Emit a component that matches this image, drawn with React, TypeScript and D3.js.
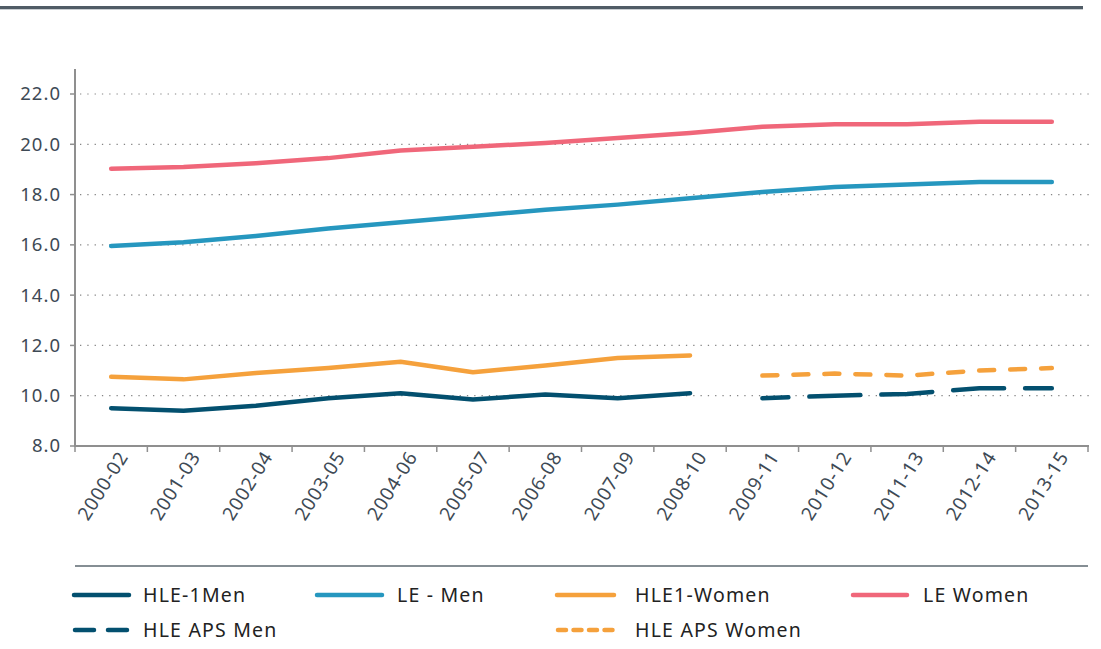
import React from "react";
import * as d3 from "d3";

const categories = [
  "2000-02", "2001-03", "2002-04", "2003-05", "2004-06", "2005-07", "2006-08",
  "2007-09", "2008-10", "2009-11", "2010-12", "2011-13", "2012-14", "2013-15",
];
const hle1Men: (number | null)[] = [9.5, 9.4, 9.6, 9.9, 10.1, 9.85, 10.05, 9.9, 10.1, null, null, null, null, null];
const leMen: (number | null)[] = [15.95, 16.1, 16.35, 16.65, 16.9, 17.15, 17.4, 17.6, 17.85, 18.1, 18.3, 18.4, 18.5, 18.5];
const hle1Women: (number | null)[] = [10.75, 10.65, 10.9, 11.1, 11.35, 10.93, 11.2, 11.5, 11.6, null, null, null, null, null];
const leWomen: (number | null)[] = [19.03, 19.1, 19.25, 19.45, 19.75, 19.9, 20.05, 20.25, 20.45, 20.7, 20.8, 20.8, 20.9, 20.9];
const hleApsMen: (number | null)[] = [null, null, null, null, null, null, null, null, null, 9.9, 10.0, 10.07, 10.3, 10.3];
const hleApsWomen: (number | null)[] = [null, null, null, null, null, null, null, null, null, 10.8, 10.88, 10.8, 11.0, 11.1];
const yTicks = [8, 10, 12, 14, 16, 18, 20, 22];

const NAVY = "#03506f";
const BLUE = "#2697bf";
const ORANGE = "#f5a13c";
const PINK = "#f0677a";
const FONT = "'Noto Sans', 'Open Sans', sans-serif";

const series = [
  { name: "HLE-1Men", values: hle1Men, color: NAVY, dash: undefined as string | undefined, offset: 0 },
  { name: "LE - Men", values: leMen, color: BLUE, dash: undefined, offset: 0 },
  { name: "HLE1-Women", values: hle1Women, color: ORANGE, dash: undefined, offset: 0 },
  { name: "LE Women", values: leWomen, color: PINK, dash: undefined, offset: 0 },
  { name: "HLE APS Men", values: hleApsMen, color: NAVY, dash: "51 21", offset: 25 },
  { name: "HLE APS Women", values: hleApsWomen, color: ORANGE, dash: "15 16", offset: 0 },
];

const legendItems = [
  { name: "HLE-1Men", color: NAVY, dash: undefined as string | undefined, x1: 74, x2: 129, tx: 143, y: 595 },
  { name: "LE - Men", color: BLUE, dash: undefined, x1: 317, x2: 382, tx: 397, y: 595 },
  { name: "HLE1-Women", color: ORANGE, dash: undefined, x1: 557, x2: 614, tx: 635, y: 595 },
  { name: "LE Women", color: PINK, dash: undefined, x1: 853, x2: 907, tx: 923, y: 595 },
  { name: "HLE APS Men", color: NAVY, dash: "19 14", x1: 75, x2: 129, tx: 143, y: 630 },
  { name: "HLE APS Women", color: ORANGE, dash: "8 7.5", x1: 558, x2: 614, tx: 635, y: 630 },
];

export default function App() {
  const x = d3.scaleBand<string>().domain(categories).range([75, 1088]).padding(0);
  const y = d3.scaleLinear().domain([8, 22]).range([446, 94]);
  const cx = (c: string) => (x(c) as number) + x.bandwidth() / 2;

  const line = d3
    .line<number | null>()
    .defined((d) => d !== null)
    .x((_, i) => cx(categories[i]))
    .y((d) => y(d as number));

  const tickXs = categories.map((c) => x(c) as number).concat([1088]);

  return (
    <svg
      width={1101}
      height={649}
      style={{ position: "absolute", left: 0, top: 0, background: "#fff" }}
    >
      {/* top rule */}
      <line x1={0} x2={1083} y1={7.5} y2={7.5} stroke="#505c66" strokeWidth={3} />
      <line x1={0} x2={1083} y1={9.5} y2={9.5} stroke="#c9ced2" strokeWidth={1} />

      {/* gridlines */}
      {yTicks.filter((t) => t !== 8).map((t) => (
        <line
          key={"g" + t}
          x1={80}
          x2={1090}
          y1={y(t)}
          y2={y(t)}
          stroke="#858585"
          strokeWidth={1.2}
          strokeDasharray="1.3 6"
        />
      ))}

      {/* y axis */}
      <line x1={75} x2={75} y1={69} y2={447} stroke="#8f8f8f" strokeWidth={2} />
      {yTicks.map((t) => (
        <g key={"y" + t}>
          <line x1={70} x2={75} y1={y(t)} y2={y(t)} stroke="#8f8f8f" strokeWidth={1.5} />
          <text
            x={61}
            y={y(t)}
            dy="0.35em"
            textAnchor="end"
            fontFamily={FONT}
            fontSize={18.5}
            letterSpacing={1}
            fill="#3e4a55"
          >
            {t.toFixed(1)}
          </text>
        </g>
      ))}

      {/* x axis */}
      <line x1={74} x2={1089} y1={446} y2={446} stroke="#8f8f8f" strokeWidth={2} />
      {tickXs.map((tx, i) => (
        <line key={"xt" + i} x1={tx} x2={tx} y1={446} y2={452} stroke="#8f8f8f" strokeWidth={1.5} />
      ))}
      {categories.map((c) => (
        <text
          key={"xl" + c}
          transform={`translate(${cx(c) + 12},${453}) rotate(-58)`}
          textAnchor="end"
          dy="0.35em"
          fontFamily={FONT}
          fontSize={19}
          letterSpacing={0.8}
          fill="#3e4a55"
        >
          {c}
        </text>
      ))}

      {/* series */}
      {series.map((s) => (
        <path
          key={s.name}
          d={line(s.values) || ""}
          fill="none"
          stroke={s.color}
          strokeWidth={4.5}
          strokeLinecap="round"
          strokeLinejoin="round"
          strokeDasharray={s.dash}
          strokeDashoffset={s.offset}
        />
      ))}

      {/* legend separator */}
      <line x1={75} x2={1088} y1={566} y2={566} stroke="#5d6870" strokeWidth={1.5} />

      {/* legend */}
      {legendItems.map((l) => (
        <g key={"l" + l.name}>
          <line
            x1={l.x1}
            x2={l.x2}
            y1={l.y}
            y2={l.y}
            stroke={l.color}
            strokeWidth={4.5}
            strokeLinecap="round"
            strokeDasharray={l.dash}
          />
          <text
            x={l.tx}
            y={l.y}
            dy="0.35em"
            fontFamily={FONT}
            fontSize={19.5}
            letterSpacing={1.2}
            fill="#222"
          >
            {l.name}
          </text>
        </g>
      ))}
    </svg>
  );
}
